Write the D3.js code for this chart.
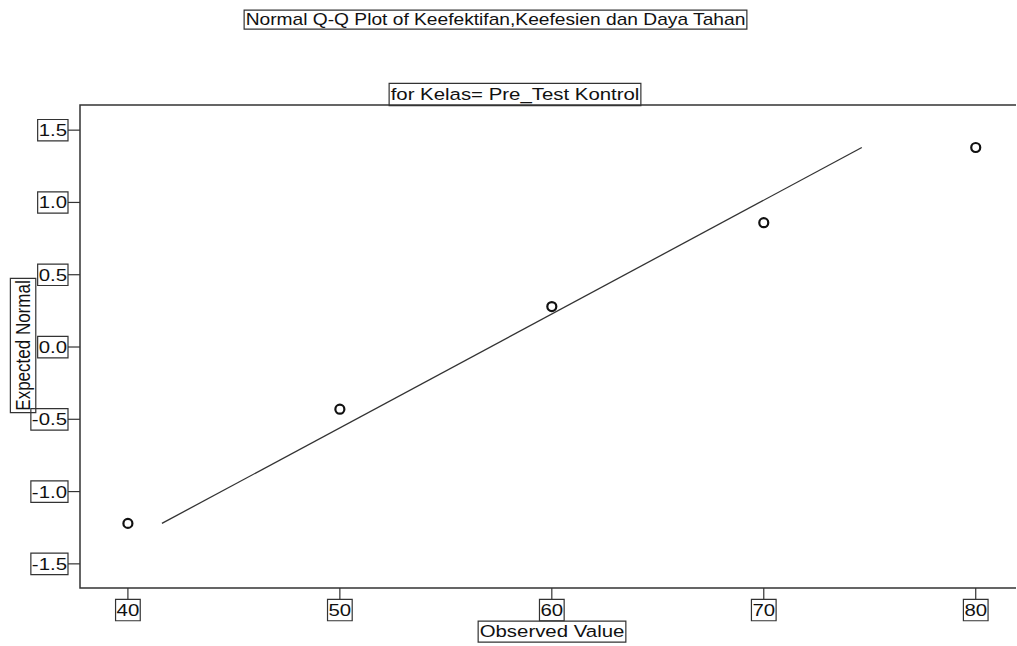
<!DOCTYPE html>
<html>
<head>
<meta charset="utf-8">
<script src="https://cdn.jsdelivr.net/npm/d3@7"></script>
<style>
  body { margin: 0; background: #fff; }
  text { font-family: "Liberation Sans", Arial, sans-serif; font-size: 17px; fill: #111; }
</style>
</head>
<body>
<div id="chart"></div>
<script>
// observed values and their expected normal scores
var observed = [40, 50, 60, 70, 80];
var expected = [-1.22, -0.43, 0.28, 0.86, 1.38];

// reference line: x = mean + sd * z
var lineMean = 57.1;
var lineSd = 12.7;

var xTicks = [40, 50, 60, 70, 80];
var yTicks = [-1.5, -1.0, -0.5, 0.0, 0.5, 1.0, 1.5];

var titleText = "Normal Q-Q Plot of Keefektifan,Keefesien dan Daya Tahan";
var subTitleText = "for Kelas= Pre_Test Kontrol";
var xLabel = "Observed Value";
var yLabel = "Expected Normal";

var svgWidth = 1017;
var svgHeight = 646;

const margin = { top: 105, right: 1, bottom: 58, left: 80 };
var width = svgWidth - margin.left - margin.right;
var height = svgHeight - margin.top - margin.bottom;

// the whole picture looks stretched sideways
var stretch = 1.2;

var svg = d3.select("#chart")
    .append("svg")
    .attr("width", svgWidth)
    .attr("height", svgHeight);

var xScale = d3.scaleLinear().domain([37.74, 81.9]).range([margin.left, margin.left + width]);
var yScale = d3.scaleLinear().domain([-1.667, 1.674]).range([margin.top + height, margin.top]);

// hyphen minus like the original, not the unicode minus
var fmtY = v => d3.format(".1f")(v).replace("\u2212", "-");

// draws a text with a thin box round it
function boxText(x, y, str, anchor, rot, sx, sy, padX, padY, size) {
    var g = svg.append("g")
        .attr("transform", `translate(${x},${y}) rotate(${rot}) scale(${sx},${sy})`);
    var t = g.append("text")
        .text(str)
        .attr("text-anchor", anchor)
        .attr("dy", "0.35em");
    if (size) t.style("font-size", size + "px");
    var b = t.node().getBBox();
    g.insert("rect", "text")
        .attr("x", b.x - padX / sx)
        .attr("y", b.y - padY / sy)
        .attr("width", b.width + 2 * padX / sx)
        .attr("height", b.height + 2 * padY / sy)
        .attr("fill", "none")
        .attr("stroke", "#333")
        .attr("stroke-width", 1.2)
        .attr("vector-effect", "non-scaling-stroke");
}

// frame: left and bottom axes, top line
var yTop = margin.top, yBottom = margin.top + height;
var xLeft = margin.left, xRight = margin.left + width;
svg.append("path")
    .attr("d", `M${xRight},${yTop}H${xLeft}V${yBottom}H${xRight}`)
    .attr("fill", "none")
    .attr("stroke", "#333")
    .attr("stroke-width", 1.5);

// ticks
svg.append("g").selectAll("line")
    .data(yTicks).enter().append("line")
    .attr("x1", xLeft - 12).attr("x2", xLeft)
    .attr("y1", d => yScale(d)).attr("y2", d => yScale(d))
    .attr("stroke", "#333").attr("stroke-width", 1.2);

svg.append("g").selectAll("line")
    .data(xTicks).enter().append("line")
    .attr("x1", d => xScale(d)).attr("x2", d => xScale(d))
    .attr("y1", yBottom).attr("y2", yBottom + 11)
    .attr("stroke", "#333").attr("stroke-width", 1.2);

yTicks.forEach(function(v) {
    boxText(xLeft - 13, yScale(v), fmtY(v), "end", 0, stretch, 1, 1, 1.2);
});
xTicks.forEach(function(v) {
    boxText(xScale(v), yBottom + 22, d3.format("d")(v), "middle", 0, stretch, 1, 1, 1.2);
});

// reference line across the range of expected scores
var zExt = d3.extent(expected);
svg.append("line")
    .attr("x1", xScale(lineMean + lineSd * zExt[0]))
    .attr("y1", yScale(zExt[0]))
    .attr("x2", xScale(lineMean + lineSd * zExt[1]))
    .attr("y2", yScale(zExt[1]))
    .attr("stroke", "#333")
    .attr("stroke-width", 1.3);

// points
svg.append("g").selectAll("circle")
    .data(observed).enter().append("circle")
    .attr("cx", d => xScale(d))
    .attr("cy", (d, i) => yScale(expected[i]))
    .attr("r", 4.5)
    .attr("fill", "none")
    .attr("stroke", "#111")
    .attr("stroke-width", 2.2);

// titles
boxText(495.5, 19.5, titleText, "middle", 0, stretch, 1, 1.5, 0.5, 16);
boxText(515, 94, subTitleText, "middle", 0, stretch, 1, 1.5, 1.2);
boxText(552, 631.5, xLabel, "middle", 0, stretch, 1, 1.5, 1);
boxText(23, 345.5, yLabel, "middle", -90, 1, stretch, 2, 1.3);
</script>
</body>
</html>
